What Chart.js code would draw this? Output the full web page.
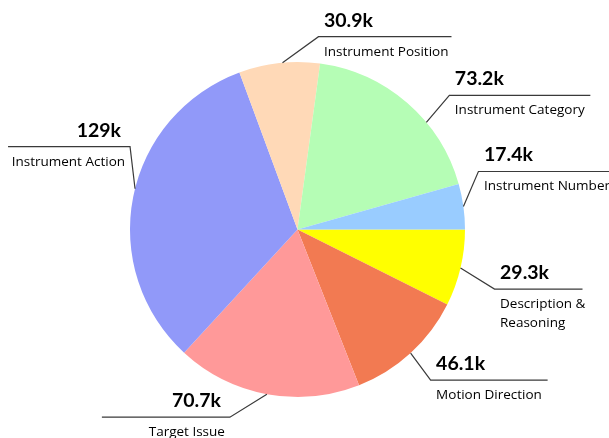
<!DOCTYPE html>
<html>
<head>
<meta charset="utf-8">
<title>Instruction components</title>
<script src="https://cdn.jsdelivr.net/npm/chart.js@4/dist/chart.umd.min.js"></script>
<style>
  html, body { margin: 0; padding: 0; background: #ffffff; }
  #wrap { width: 609px; height: 438px; position: relative; overflow: hidden; }
</style>
</head>
<body>
<div id="wrap"><canvas id="chart" width="609" height="438"></canvas></div>
<script>
// Categories, in clockwise order starting from 3 o'clock
const categories = [
  ['Description &', 'Reasoning'],
  ['Motion Direction'],
  ['Target Issue'],
  ['Instrument Action'],
  ['Instrument Position'],
  ['Instrument Category'],
  ['Instrument Number']
];

// Sample counts per category
const counts = [29300, 46100, 70700, 129000, 30900, 73200, 17400];

const sliceColors = ['#ffff00', '#f27a52', '#ff9999', '#9199f9', '#ffd9b7', '#b5fdb5', '#99ccff'];

// Callout layout: where along the slice the leader starts (fraction of the arc),
// elbow offset from that point, which side the text sits on, and underline length
const calloutLayout = [
  { frac: 0.50, dx: 34,  dy: 21,  side: 'right', len: 88 },
  { frac: 0.50, dx: 20,  dy: 27,  side: 'right', len: 117 },
  { frac: 0.50, dx: -37, dy: 23,  side: 'left',  len: 128 },
  { frac: 0.525, dx: -5, dy: -42, side: 'left',  len: 122 },
  { frac: 0.54, dx: 36,  dy: -26, side: 'right', len: 133 },
  { frac: 0.64, dx: 23,  dy: -27, side: 'right', len: 141 },
  { frac: 0.50, dx: 15,  dy: -35, side: 'right', len: 150 }
];

const VALUE_FONT = 'bold 19.5px Lato, "Open Sans", sans-serif';
const LABEL_FONT = '13.5px "Open Sans", Lato, sans-serif';

function formatCount(v) {
  return v >= 100000 ? Math.round(v / 1000) + 'k' : (v / 1000).toFixed(1) + 'k';
}

const calloutPlugin = {
  id: 'callouts',
  afterDatasetsDraw(chart) {
    const ctx = chart.ctx;
    const meta = chart.getDatasetMeta(0);
    ctx.save();
    meta.data.forEach((arc, i) => {
      const lay = calloutLayout[i];
      const p = arc.getProps(['x', 'y', 'startAngle', 'endAngle', 'outerRadius'], true);
      const a = p.startAngle + (p.endAngle - p.startAngle) * lay.frac;
      const sx = p.x + Math.cos(a) * p.outerRadius;
      const sy = p.y + Math.sin(a) * p.outerRadius;
      const ex = sx + lay.dx;
      const ey = sy + lay.dy;
      const right = lay.side === 'right';
      const lx = right ? ex + lay.len : ex - lay.len;

      ctx.strokeStyle = '#3a3a3a';
      ctx.lineWidth = 1.2;
      ctx.beginPath();
      ctx.moveTo(sx, sy);
      ctx.lineTo(ex, ey);
      ctx.lineTo(lx, ey);
      ctx.stroke();

      ctx.fillStyle = '#000000';
      ctx.textBaseline = 'alphabetic';
      ctx.textAlign = right ? 'left' : 'right';

      ctx.font = VALUE_FONT;
      ctx.fillText(formatCount(counts[i]), right ? ex + 5.5 : ex - 9, ey - 10);

      ctx.font = LABEL_FONT;
      const tx = right ? ex + 5.5 : ex - 5;
      categories[i].forEach((line, k) => {
        ctx.fillText(line, tx, ey + 19 + k * 18.5);
      });
    });
    ctx.restore();
  }
};

new Chart(document.getElementById('chart'), {
  type: 'pie',
  data: {
    labels: categories.map(c => c.join(' ')),
    datasets: [{
      data: counts,
      backgroundColor: sliceColors,
      borderWidth: 0
    }]
  },
  options: {
    responsive: false,
    animation: false,
    devicePixelRatio: 1,
    rotation: 90,
    layout: { padding: { left: 130, right: 144, top: 62, bottom: 41 } },
    plugins: {
      legend: { display: false },
      tooltip: { enabled: false }
    }
  },
  plugins: [calloutPlugin]
});
</script>
</body>
</html>
